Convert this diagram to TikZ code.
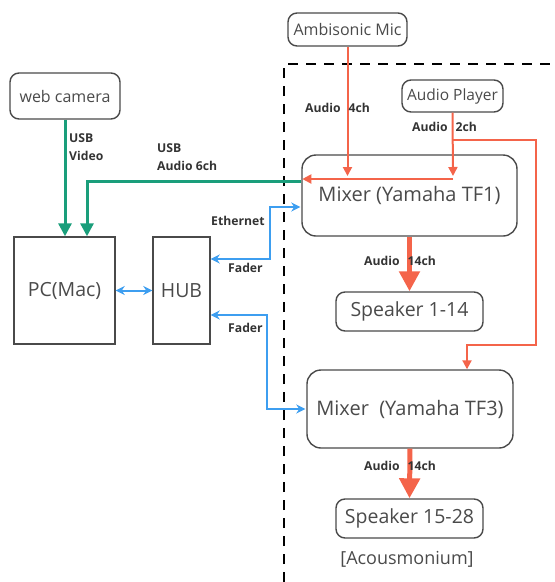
\documentclass[tikz,border=0pt]{standalone}
\usepackage{fontspec}
\setmainfont{Open Sans}
\usetikzlibrary{arrows.meta}
\definecolor{usbgreen}{HTML}{1A9E7B}
\definecolor{audiored}{HTML}{F4644A}
\definecolor{netblue}{HTML}{3D9EF0}
\definecolor{boxgray}{HTML}{4A4A4A}
\definecolor{labelgray}{HTML}{333333}
\tikzset{
  dev/.style={draw=boxgray, line width=1.4pt, rounded corners=9pt, inner sep=0pt,
    text=boxgray, font=\fontsize{16}{18}\selectfont},
  mixer/.style={dev, rounded corners=14pt, font=\fontsize{20}{22}\selectfont},
  speaker/.style={dev, font=\fontsize{19.5}{21}\selectfont},
  hw/.style={draw=boxgray, line width=1.4pt, inner sep=0pt, text=boxgray,
    font=\fontsize{19.5}{21}\selectfont},
  lbl/.style={font=\bfseries\fontsize{12.2}{18}\selectfont, text=labelgray, inner sep=0pt, anchor=west},
  usb/.style={draw=usbgreen, line width=3pt, -{Triangle[length=13pt,width=13pt]}},
  audio/.style={draw=audiored, line width=2pt, -{Triangle[length=9pt,width=9pt]}},
  bigaudio/.style={draw=audiored, line width=5pt, -{Triangle[length=20pt,width=20pt]}},
  net/.style={draw=netblue, line width=2pt, {Stealth[length=9pt,width=9pt]}-{Stealth[length=9pt,width=9pt]}},
  zone/.style={draw=black, line width=2.5pt, dash pattern=on 10pt off 8pt}
}
\begin{document}
\begin{tikzpicture}[x=1pt,y=-1pt]
\useasboundingbox (0,0) rectangle (555,582);

% devices
\node[dev, minimum width=110pt, minimum height=46pt] (cam) at (65,96) {web camera};
\node[dev, minimum width=119pt, minimum height=33pt] (amb) at (347.5,29.5) {Ambisonic Mic};
\node[dev, minimum width=101pt, minimum height=32pt, font=\fontsize{15.5}{17}\selectfont] (ap) at (452.5,96) {Audio Player};
\node[hw, minimum width=101pt, minimum height=107pt] (pc) at (64.5,290.5) {PC(Mac)};
\node[hw, minimum width=57pt, minimum height=107pt] (hub) at (181.5,290.5) {HUB};
\node[mixer, minimum width=215pt, minimum height=81pt] (mix1) at (409.5,195.5) {Mixer (Yamaha TF1)};
\node[speaker, minimum width=147pt, minimum height=39pt] (spk1) at (409.5,311.5) {Speaker 1-14};
\node[mixer, minimum width=206pt, minimum height=78pt] (mix3) at (410,409) {Mixer\ \ (Yamaha TF3)};
\node[speaker, minimum width=147pt, minimum height=39pt] (spk2) at (409.5,518.5) {Speaker 15-28};
\node[text=boxgray, font=\fontsize{18}{20}\selectfont, inner sep=0pt] (acm) at (407,559) {[Acousmonium]};

% venue boundary
\draw[zone] (284,582) -- (284,64) -- (555,64);

% USB links
\draw[usb] (cam.south) -- (cam.south |- pc.north);
\draw[usb] (mix1.west |- 0,181) -| ([xshift=22.5pt]pc.north);

% audio links
\draw[audio] (amb.south) -- (amb.south |- 0,176);
\draw[audio] (ap.south) -- ([xshift=0.5pt]ap.south |- 0,176);
\draw[audio] (453,179) -- ([xshift=1pt]mix1.west |- 0,179);
\draw[audio] (ap.south |- 0,140) -- (536,140) -- (536,345) -| ([xshift=57pt]mix3.north);
\draw[bigaudio] (mix1.south) -- (spk1.north);
\draw[bigaudio] (mix3.south) -- (spk2.north);

% network links
\draw[net] (pc.east) -- (hub.west);
\draw[net] (hub.east |- 0,259) -- (270,259) -- (270,207) -- ([xshift=-1pt]mix1.west |- 0,207);
\draw[net] (hub.east |- 0,315) -- (267,315) -- (267,409) -- ([xshift=-1pt]mix3.west);

% labels
\node[lbl, align=left] (lv) at (69,147) {USB\\Video};
\node[lbl, align=left] (la6) at (157,157) {USB\\Audio 6ch};
\node[lbl] (la4) at (305,108) {Audio\hspace{8pt}4ch};
\node[lbl] (la2) at (412,127) {Audio\hspace{8pt}2ch};
\node[lbl] (leth) at (211,221) {Ethernet};
\node[lbl] (lf1) at (228,268) {Fader};
\node[lbl] (lf2) at (228,328) {Fader};
\node[lbl] (la14a) at (364,261) {Audio\hspace{8pt}14ch};
\node[lbl] (la14b) at (364,466) {Audio\hspace{8pt}14ch};
\end{tikzpicture}
\end{document}
